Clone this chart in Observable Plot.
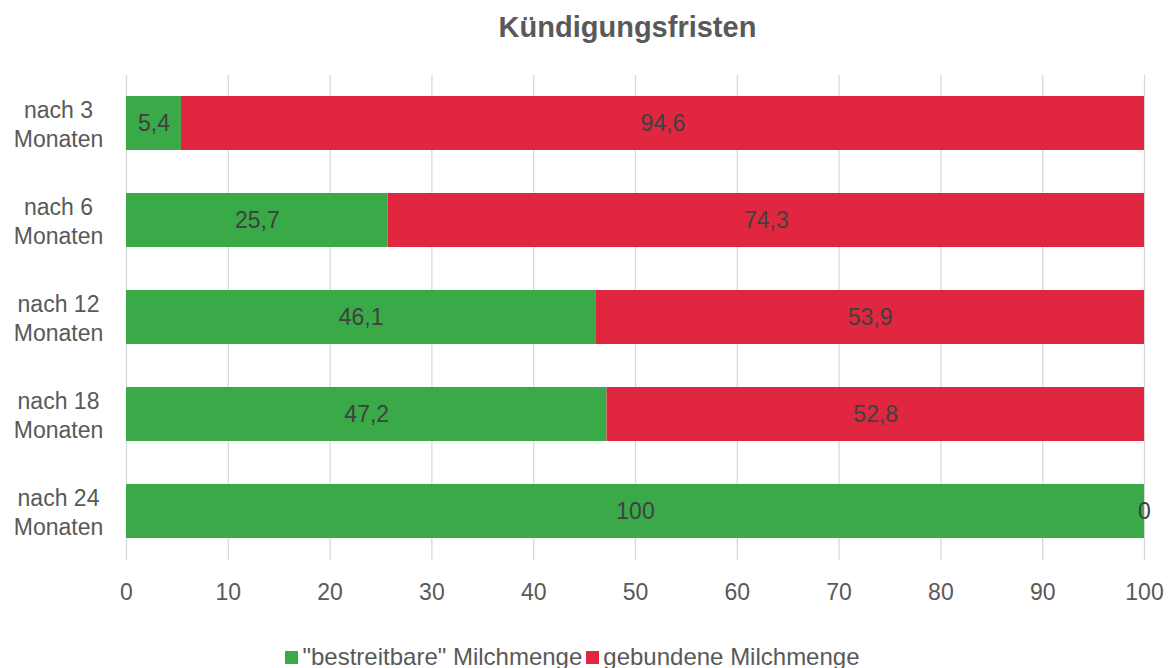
<!DOCTYPE html>
<html>
<head>
<meta charset="utf-8">
<script src="https://cdn.jsdelivr.net/npm/d3@7"></script>
<script src="https://cdn.jsdelivr.net/npm/@observablehq/plot@0.6"></script>
<style>
  html, body { margin: 0; padding: 0; background: #fff; }
  #wrap { position: relative; width: 1175px; height: 668px; font-family: "Liberation Sans", Arial, sans-serif; }
  #title { position: absolute; left: 0; top: 11px; width: 1255px; text-align: center; font-size: 29px; font-weight: bold; color: #595959; }
  #chart { position: absolute; left: 0; top: 0; }
  #legend { position: absolute; left: 0; top: 643px; width: 1145px; text-align: center; font-size: 24px; color: #595959; white-space: nowrap; }
  #legend span.sw { display: inline-block; width: 13px; height: 13px; margin-right: 4px; vertical-align: 1px; }
  #legend span.item { margin: 0 2px; }
</style>
</head>
<body>
<div id="wrap">
  <div id="title"></div>
  <div id="chart"></div>
  <div id="legend"></div>
</div>
<script>
const title = "Kündigungsfristen";
const categories = ["nach 3\nMonaten", "nach 6\nMonaten", "nach 12\nMonaten", "nach 18\nMonaten", "nach 24\nMonaten"];
const seriesNames = ["\"bestreitbare\" Milchmenge", "gebundene Milchmenge"];
const seriesColors = ["#3aaa48", "#e1263f"];
const bestreitbar = [5.4, 25.7, 46.1, 47.2, 100];
const gebunden = [94.6, 74.3, 53.9, 52.8, 0];
const xTicks = [0, 10, 20, 30, 40, 50, 60, 70, 80, 90, 100];

const rows = [];
categories.forEach((c, i) => {
  rows.push({cat: c, series: seriesNames[0], value: bestreitbar[i]});
  rows.push({cat: c, series: seriesNames[1], value: gebunden[i]});
});
const fmt = v => String(v).replace(".", ",");

const chart = Plot.plot({
  width: 1175,
  height: 668,
  marginTop: 75,
  marginBottom: 108,
  marginLeft: 126,
  marginRight: 31,
  style: {fontFamily: "'Liberation Sans', Arial, sans-serif", fontSize: "23px", color: "#595959", background: "transparent"},
  x: {domain: [0, 100], ticks: xTicks, label: null},
  y: {domain: categories, paddingInner: 0.44, paddingOuter: 0.22, label: null},
  color: {domain: seriesNames, range: seriesColors},
  marks: [
    Plot.gridX(xTicks, {stroke: "#d9d9d9", strokeOpacity: 1, strokeWidth: 1.3}),
    Plot.barX(rows, Plot.stackX({x: "value", y: "cat", fill: "series", order: seriesNames})),
    Plot.text(rows, Plot.stackX({x: "value", y: "cat", z: "series", order: seriesNames, text: d => fmt(d.value), fill: "#404040", fontSize: 23})),
    Plot.axisX(xTicks, {tickSize: 0, tickPadding: 23, fontSize: 23, fill: "#595959", label: null}),
    Plot.axisY({tickSize: 0, tickPadding: 68, textAnchor: "middle", fontSize: 23, fill: "#595959", lineHeight: 1.22, label: null})
  ]
});
document.getElementById("chart").appendChild(chart);
document.getElementById("title").textContent = title;
const leg = document.getElementById("legend");
seriesNames.forEach((s, i) => {
  const item = document.createElement("span");
  item.className = "item";
  const sw = document.createElement("span");
  sw.className = "sw";
  sw.style.background = seriesColors[i];
  item.appendChild(sw);
  item.appendChild(document.createTextNode(s));
  leg.appendChild(item);
});
</script>
</body>
</html>
